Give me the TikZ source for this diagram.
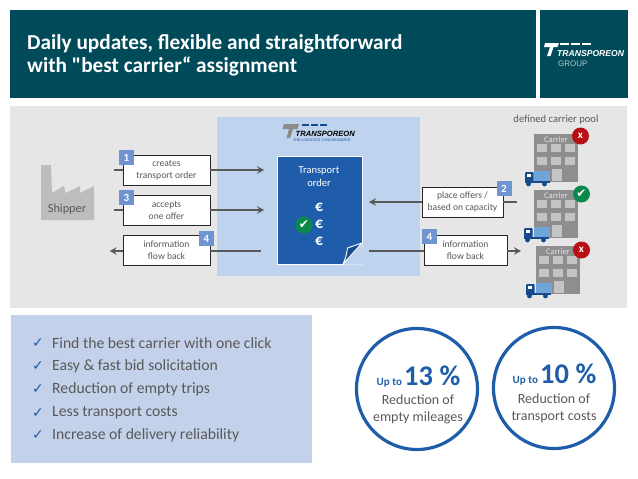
\documentclass[tikz,border=0pt]{standalone}
\usepackage{fontspec}
\setmainfont{Carlito}
\newfontfamily\titlefont{Carlito}
\newfontfamily\symfont{DejaVu Sans}
\newfontfamily\logofont{Liberation Sans}
\usetikzlibrary{arrows.meta,positioning,calc}
\newcommand{\fsz}[2]{\fontsize{#1}{#2}\selectfont}
\definecolor{headteal}{HTML}{004A5A}
\definecolor{panelgray}{HTML}{E6E6E6}
\definecolor{panelblue}{HTML}{BDD3EE}
\definecolor{listblue}{HTML}{C3D2EA}
\definecolor{orderblue}{HTML}{1F5DAB}
\definecolor{darkblue}{HTML}{164A8C}
\definecolor{numblue}{HTML}{6F94D0}
\definecolor{txtgray}{HTML}{595959}
\definecolor{bldgray}{HTML}{8E8E8E}
\definecolor{wingray}{HTML}{C4C4C4}
\definecolor{shipgray}{HTML}{BDBDBD}
\definecolor{okgreen}{HTML}{0A8A4A}
\definecolor{nored}{HTML}{B80F14}
\definecolor{truckblue}{HTML}{6FA5D8}

\begin{document}
\begin{tikzpicture}[x=1pt,y=-1pt,
  panel/.style={inner sep=0pt, outer sep=0pt},
  n/.style={draw=black!85, fill=white, line width=0.7pt, align=center,
            inner sep=0pt, minimum height=30pt, minimum width=87pt,
            text=txtgray, font=\fsz{9.6}{12}},
  num/.style={fill=numblue, text=white, inner sep=0pt, minimum size=15pt,
              font=\fsz{11}{12}\bfseries},
  e/.style={-{Stealth[length=7pt,width=7.5pt,inset=2.5pt]}, line width=1.1pt, txtgray},
  stub/.style={line width=1.1pt, txtgray},
  bld/.style={panel, fill=bldgray, minimum width=44pt, minimum height=48pt},
  win/.style={panel, fill=wingray, minimum width=10pt, minimum height=7.5pt},
  flag/.style={circle, inner sep=0pt, minimum size=17pt, text=white},
  ring/.style={circle, draw=orderblue, line width=3.2pt, inner sep=0pt, minimum size=121pt},
  stat/.style={align=center, text=txtgray, font=\fsz{14}{17}},
  big/.style={text=orderblue, inner sep=0pt, font=\bfseries}]

\useasboundingbox (0,0) rectangle (638,479);

% header
\node[panel, fill=headteal, minimum width=526pt, minimum height=88pt] (hdr) at (273,54) {};
\node[panel, fill=headteal, minimum width=88pt, minimum height=88pt] (hdl) at (584,54) {};
\node[anchor=west, align=left, text=white, inner sep=0pt, font=\fsz{21.3}{23}\titlefont\bfseries] (ttl) at (27,55)
      {Daily updates, flexible and straightforward\\with "best carrier“ assignment};

\fill[white] (545,43) -- (559,43) -- (557.5,47) -- (553.5,47) -- (550.5,56) -- (547,56) -- (550,47) -- (544,47) -- cycle;
\foreach \dx in {560,571,582}
  \fill[white] (\dx,43) rectangle ++(9,2);
\node[anchor=west, inner sep=0pt, text=white, font=\fsz{8.6}{10}\logofont\bfseries\itshape] (hlg) at (557,54) {TRANSPOREON};
\node[anchor=west, inner sep=0pt, text=white!70!headteal, font=\fsz{8}{8}\logofont] (hgr) at (558,63.5) {GROUP};

% panels
\node[panel, fill=panelgray, minimum width=617pt, minimum height=202pt] (gry) at (318.5,207) {};
\node[panel, fill=panelblue, minimum width=203pt, minimum height=159pt] (blu) at (318.5,196.5) {};

% logo in the blue panel
\fill[black!45] (284,124) -- (299,124) -- (297.5,129) -- (293,129) -- (290,138) -- (286.5,138) -- (289,129) -- (282.5,129) -- cycle;
\foreach \dx in {302,311,320}
  \fill[darkblue] (\dx,124) rectangle ++(7,2.4);
\node[anchor=west, inner sep=0pt, text=black, font=\fsz{7.6}{9}\logofont\bfseries\itshape] (lgo) at (295.5,133.5) {TRANSPOREON};
\node[anchor=west, inner sep=0pt, text=darkblue, font=\fsz{3.6}{4}\logofont] (lgt) at (293,140.5) {THE LOGISTICS SYNCHRONIZER};

% shipper
\fill[shipgray] (41,165) -- (51,165) -- (52,193) -- (64,186) -- (65.5,193) -- (80,186) -- (80,193) -- (94,186) -- (94,220) -- (41,220) -- cycle;
\node[inner sep=0pt, text=txtgray, font=\fsz{12.3}{13}] (shp) at (67,209) {Shipper};

% transport order
\node[panel, draw=white, line width=0.9pt, fill=orderblue, minimum width=85pt, minimum height=108pt] (ord) at (319.5,210) {};
\fill[panelblue] (362.6,243) -- (363,264.6) -- (343,264.6) -- cycle;
\draw[white, line width=0.9pt, fill=darkblue, line join=round] (343,264) .. controls (346,257) .. (347.5,248) -- (362,243) -- cycle;
\node[align=center, text=white, inner sep=0pt, font=\fsz{10.5}{13.5}] (ott) at (319,176.5) {Transport\\order};
\foreach \i/\ey in {1/207,2/224.5,3/241}
  \node[inner sep=0pt, text=white, font=\fsz{15.6}{16}\bfseries] (eur\i) at (319,\ey) {€};
\node[flag, fill=okgreen, font=\fsz{12}{12}\symfont] (okc) at (304,225) {✔};

% left boxes
\node[n] (cre) at (166.5,170) {creates\\transport order};
\node[n] (acc) at (166.5,210) {accepts\\one offer};
\node[n] (inl) at (166.5,250) {information\\flow back};
\node[num] (n1) at (126.5,157.5) {1};
\node[num] (n3) at (126.5,197.5) {3};
\node[num] (n4l) at (206.5,238.5) {4};

% right boxes
\node[n, minimum width=81pt] (off) at (462.5,202) {place offers /\\based on capacity};
\node[n, minimum width=83pt] (inr) at (465.5,250) {information\\flow back};
\node[num] (n2) at (504,188.5) {2};
\node[num] (n4r) at (429.5,236.5) {4};

% carriers
\foreach \i/\cx/\cy/\tx in {1/534/134/-9,2/534/190/-10,3/536/246/-10} {
  \node[bld, anchor=north west] (car\i) at (\cx,\cy) {};
  \node[inner sep=0pt, text=white!75!bldgray, font=\fsz{8.5}{9}] (cat\i) at ($(car\i.north)+(0,5.5)$) {Carrier};
  \foreach \wx in {8,22,36} \foreach \wy in {14,27}
    \node[win] at ($(car\i.north west)+(\wx,\wy)$) {};
  \node[panel, fill=wingray, minimum width=10pt, minimum height=12pt] (dor\i) at ($(car\i.north west)+(23,41)$) {};
  % truck
  \fill[truckblue] ($(car\i.north west)+(0,37)$) rectangle ++(15.5,9.5);
  \fill[darkblue, rounded corners=1pt] ($(car\i.north west)+(\tx,38)$) rectangle ++(8.5,11);
  \fill[darkblue] ($(car\i.north west)+(\tx,46.5)$) rectangle ++(24.5,2.5);
  \fill[white] ($(car\i.north west)+(\tx+1.5,40)$) rectangle ++(4,3);
  \fill[darkblue] ($(car\i.north west)+(\tx+3.5,50)$) circle (2.4pt) ($(car\i.north west)+(\tx+19.5,50)$) circle (2.4pt);
}
\node[flag, fill=nored, font=\fsz{11}{12}\bfseries] (mk1) at (580.5,136) {x};
\node[flag, fill=okgreen, font=\fsz{12}{12}\symfont] (mk2) at (581.5,194) {✔};
\node[flag, fill=nored, font=\fsz{11}{12}\bfseries] (mk3) at (581.5,250) {x};
\node[inner sep=0pt, text=txtgray, font=\fsz{10.6}{11}] (poo) at (556,119.5) {defined carrier pool};

% connectors
\draw[stub] ($(cre.west)+(-9,0)$) -- (cre.west);
\draw[e, shorten >=13pt] (cre.east) -- (cre.east -| ord.west);
\draw[stub] ($(acc.west)+(-9,0)$) -- (acc.west);
\draw[e, shorten >=13pt] (acc.east) -- (acc.east -| ord.west);
\draw[stub, shorten >=16pt] (inl.east |- 0,251) -- (ord.west |- 0,251);
\draw[e] (inl.west |- 0,251) -- ++(-13,0);
\draw[stub, shorten <=17pt] (car2.west |- off.east) -- (off.east);
\draw[e, shorten >=7pt] (off.west) -- (off.west -| ord.east);
\draw[stub, shorten <=7pt] (ord.east |- 0,251) -- (inr.west |- 0,251);
\draw[e, shorten >=15pt] (inr.east |- 0,251) -- (car3.west |- 0,251);

% list
\node[panel, fill=listblue, minimum width=301pt, minimum height=148pt] (lst) at (161.5,389) {};
\foreach \i/\ly/\lt in {1/343/Find the best carrier with one click,
                        2/366/Easy \& fast bid solicitation,
                        3/389/Reduction of empty trips,
                        4/413/Less transport costs,
                        5/435/Increase of delivery reliability} {
  \node[inner sep=0pt, text=orderblue, font=\fsz{14}{14}\symfont] (tck\i) at (38,\ly) {✓};
  \node[anchor=west, inner sep=0pt, text=txtgray, font=\fsz{15.7}{18}] (itm\i) at (52,\ly) {\lt};
}

% figures
\node[ring] (rg1) at (417,389) {};
\node[ring] (rg2) at (554,388) {};
\node[big] (up1) at (418.5,377) {{\fsz{11}{12}Up to} {\fsz{28.5}{30}13 \%}};
\node[big] (up2) at (554.5,375) {{\fsz{11}{12}Up to} {\fsz{28.5}{30}10 \%}};
\node[stat] (st1) at (418,409.5) {Reduction of\\empty mileages};
\node[stat] (st2) at (554,408.5) {Reduction of\\transport costs};

\end{tikzpicture}
\end{document}
